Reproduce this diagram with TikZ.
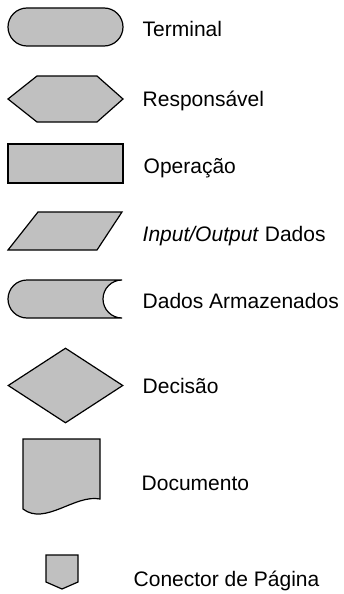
\documentclass[tikz,border=0pt]{standalone}
\usepackage{fontspec}
\setmainfont{Liberation Sans}
\usepackage{tikz}
\usetikzlibrary{shapes.geometric, shapes.misc}
\definecolor{symgray}{RGB}{192,192,192}

\begin{document}
\begin{tikzpicture}[
    x=1pt, y=1pt,
    % Symbol styles
    symbol/.style={draw=black, fill=symgray, line width=1.2pt, line join=miter},
    terminal/.style={symbol, rounded rectangle, minimum width=115pt, minimum height=38pt, inner sep=0pt},
    operation/.style={symbol, rectangle, minimum width=115pt, minimum height=39pt, inner sep=0pt},
    decision/.style={symbol, diamond, minimum width=115pt, minimum height=75pt, inner sep=0pt},
    legend/.style={anchor=base west, inner sep=0pt, font=\fontsize{21}{25}\selectfont}
]
\useasboundingbox (0,0) rectangle (344,-594);

% Terminal
\node (term) [terminal] at (65.5,-27) {};
\node (termlbl) [legend] at (142.5,-36.7) {Terminal};

% Responsavel
\draw[symbol] (8,-99) -- (37,-76) -- (97,-76) -- (123,-99) -- (97,-122) -- (37,-122) -- cycle;
\node (resplbl) [legend] at (142.5,-106) {Responsável};

% Operacao
\node (oper) [operation] at (65.5,-163.5) {};
\node (operlbl) [legend] at (143.5,-173) {Operação};

% Input/Output
\draw[symbol] (8,-250) -- (38,-212) -- (122,-212) -- (97,-250) -- cycle;
\node (iolbl) [legend] at (142.5,-241) {\textit{Input/Output} Dados};

% Dados armazenados
\draw[symbol] (27,-280) arc (90:270:19) -- (122,-318) arc (270:90:19) -- cycle;
\node (dadoslbl) [legend] at (142.5,-308) {Dados Armazenados};

% Decisao
\node (dec) [decision] at (65.5,-385.5) {};
\node (declbl) [legend] at (142.5,-393) {Decisão};

% Documento
\draw[symbol] (23,-509) -- (23,-439) -- (100,-439) -- (100,-499)
    .. controls (75,-494) and (45,-526) .. (23,-509) -- cycle;
\node (doclbl) [legend] at (141.5,-490) {Documento};

% Conector de pagina
\draw[symbol] (46,-555) -- (78,-555) -- (78,-582) -- (62,-589) -- (46,-582) -- cycle;
\node (conlbl) [legend] at (133.5,-586.7) {Conector de Página};

\end{tikzpicture}
\end{document}
